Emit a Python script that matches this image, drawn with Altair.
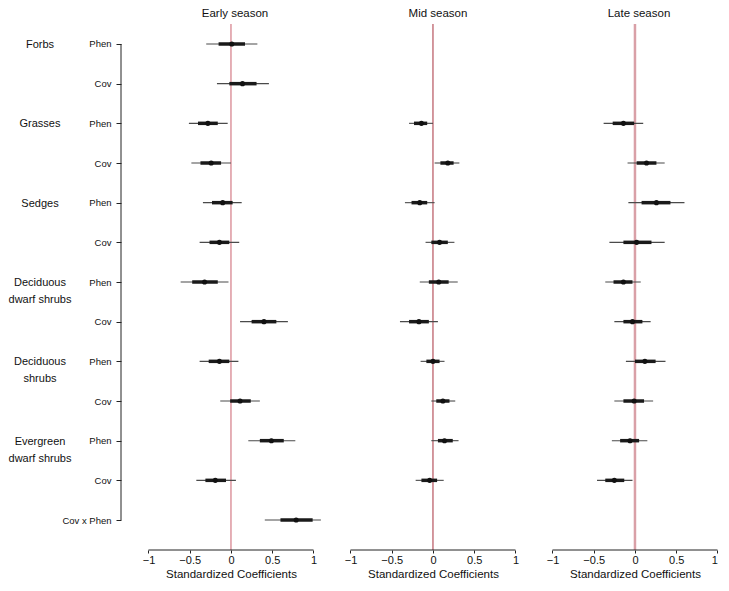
import altair as alt
import pandas as pd

# ---- data ----
row_labels = ["Phen", "Cov", "Phen", "Cov", "Phen", "Cov", "Phen", "Cov",
              "Phen", "Cov", "Phen", "Cov", "Cov x Phen"]
group_names = ["Forbs", "Grasses", "Sedges", "Deciduous\ndwarf shrubs",
               "Deciduous\nshrubs", "Evergreen\ndwarf shrubs"]
group_rows = [0, 2, 4, 6, 8, 10]

early_rows = list(range(13))
early_pt = [0.01, 0.14, -0.28, -0.24, -0.10, -0.14, -0.32, 0.40, -0.14, 0.11, 0.49, -0.19, 0.79]
early_lo95 = [-0.30, -0.17, -0.51, -0.48, -0.34, -0.38, -0.61, 0.11, -0.38, -0.13, 0.21, -0.42, 0.41]
early_hi95 = [0.32, 0.46, -0.04, 0.00, 0.13, 0.10, -0.03, 0.69, 0.09, 0.35, 0.78, 0.06, 1.09]
early_lo50 = [-0.15, -0.02, -0.40, -0.37, -0.23, -0.26, -0.47, 0.25, -0.27, -0.01, 0.35, -0.31, 0.60]
early_hi50 = [0.17, 0.31, -0.16, -0.12, 0.02, -0.02, -0.16, 0.55, -0.02, 0.24, 0.64, -0.06, 0.99]

mid_rows = list(range(2, 12))
mid_pt = [-0.14, 0.18, -0.16, 0.08, 0.07, -0.17, 0.00, 0.12, 0.14, -0.04]
mid_lo95 = [-0.29, 0.02, -0.34, -0.09, -0.16, -0.40, -0.15, -0.02, -0.02, -0.21]
mid_hi95 = [0.00, 0.32, 0.02, 0.26, 0.30, 0.06, 0.14, 0.27, 0.31, 0.13]
mid_lo50 = [-0.23, 0.09, -0.26, -0.02, -0.05, -0.29, -0.08, 0.04, 0.06, -0.14]
mid_hi50 = [-0.07, 0.25, -0.07, 0.18, 0.19, -0.05, 0.08, 0.20, 0.24, 0.05]

late_rows = list(range(2, 12))
late_pt = [-0.14, 0.14, 0.26, 0.02, -0.14, -0.03, 0.12, -0.01, -0.06, -0.25]
late_lo95 = [-0.38, -0.09, -0.08, -0.31, -0.36, -0.25, -0.11, -0.25, -0.28, -0.46]
late_hi95 = [0.10, 0.36, 0.60, 0.36, 0.07, 0.19, 0.37, 0.22, 0.15, -0.03]
late_lo50 = [-0.27, 0.02, 0.08, -0.14, -0.26, -0.14, 0.00, -0.14, -0.18, -0.36]
late_hi50 = [-0.01, 0.26, 0.43, 0.20, -0.03, 0.09, 0.25, 0.11, 0.05, -0.13]

x_ticks = [-1, -0.5, 0, 0.5, 1]
titles = ["Early season", "Mid season", "Late season"]
x_title = "Standardized Coefficients"

FONT = "Liberation Sans"
PX = 82.5
H = 542
YDOM = [-0.9075, 12.756]
XMIN = -1.333

ydom_scale = alt.Scale(domain=YDOM, reverse=True, nice=False, zero=False)

label_expr = "[" + ",".join("'" + s + "'" for s in row_labels) + "][datum.value]"


def panel(rows, pt, lo95, hi95, lo50, hi50, xmax, title, zcolor, zwidth, tshift, first=False):
    df = pd.DataFrame({"row": rows, "pt": pt, "lo95": lo95, "hi95": hi95,
                       "lo50": lo50, "hi50": hi50})
    xs = alt.Scale(domain=[XMIN, xmax], nice=False, zero=False)
    width = (xmax - XMIN) * PX
    xaxis = alt.Axis(values=x_ticks, format="~g", title=x_title, domain=False, grid=False,
                     tickSize=3, tickColor="#222", labelFont=FONT, labelFontSize=11,
                     labelColor="#111", labelPadding=1, titleFont=FONT,
                     titleFontSize=11.5, titleFontWeight="normal", titleColor="#111",
                     titlePadding=3, titleX=-XMIN * PX)
    if first:
        yenc = alt.Y("row:Q", scale=ydom_scale,
                     axis=alt.Axis(values=list(range(13)), labelExpr=label_expr,
                                   domain=False, grid=False, tickSize=5,
                                   tickColor="#222", labelFont=FONT,
                                   labelFontSize=9.5, labelColor="#111",
                                   labelPadding=5, title=None))
    else:
        yenc = alt.Y("row:Q", scale=ydom_scale, axis=None)

    base = alt.Chart(df)
    zero = alt.Chart(pd.DataFrame({"z": [0]})).mark_rule(
        color=zcolor, strokeWidth=zwidth).encode(
        x=alt.X("z:Q", scale=xs, axis=xaxis), y=alt.value(16), y2=alt.value(H))
    xline = alt.Chart(pd.DataFrame({"a": [x_ticks[0]], "b": [x_ticks[-1]]})).mark_rule(
        color="#222", strokeWidth=1).encode(
        x=alt.X("a:Q", scale=xs), x2="b:Q", y=alt.value(H))
    thin = base.mark_rule(color="#4a4a4a", strokeWidth=1.1).encode(
        x=alt.X("lo95:Q", scale=xs), x2="hi95:Q", y=yenc)
    thick = base.mark_rule(color="#1a1a1a", strokeWidth=3.5).encode(
        x=alt.X("lo50:Q", scale=xs), x2="hi50:Q", y=alt.Y("row:Q", scale=ydom_scale))
    dots = base.mark_circle(color="#111", size=26, opacity=1).encode(
        x=alt.X("pt:Q", scale=xs), y=alt.Y("row:Q", scale=ydom_scale))
    ttl = alt.Chart(pd.DataFrame({"t": [title]})).mark_text(
        font=FONT, fontSize=11.5, color="#111", align="center", baseline="top").encode(
        x=alt.value(-XMIN * PX + tshift), y=alt.value(0), text="t:N")
    layers = [zero, xline, thin, thick, dots, ttl]
    if first:
        yline = alt.Chart(pd.DataFrame({"a": [0], "b": [12]})).mark_rule(
            color="#222", strokeWidth=1).encode(
            y=alt.Y("a:Q", scale=ydom_scale), y2="b:Q", x=alt.value(0))
        gdf = pd.DataFrame({"name": group_names, "row": group_rows})
        gtext = alt.Chart(gdf).mark_text(
            font=FONT, fontSize=11, color="#111", align="center",
            baseline="alphabetic", dy=4, lineBreak="\n", lineHeight=17).encode(
            y=alt.Y("row:Q", scale=ydom_scale), x=alt.value(-81), text="name:N")
        layers += [yline, gtext]
    return alt.layer(*layers).properties(
        width=width, height=H,
        view=alt.ViewBackground(stroke="transparent", strokeWidth=0))


p1 = panel(early_rows, early_pt, early_lo95, early_hi95, early_lo50, early_hi50,
           1.1125, titles[0], "#d47c86", 1.2, 4, first=True)
p2 = panel(mid_rows, mid_pt, mid_lo95, mid_hi95, mid_lo50, mid_hi50,
           1.1125, titles[1], "#a8323f", 1.0, 5)
p3 = panel(late_rows, late_pt, late_lo95, late_hi95, late_lo50, late_hi50,
           1.0, titles[2], "#d9a0a7", 2.5, 4)

chart = alt.hconcat(p1, p2, p3, spacing=0).properties(padding=0).configure_view(
    stroke="transparent", strokeWidth=0).configure(background="white")

chart.save("out.html", embed_options={"renderer": "svg", "actions": False})
